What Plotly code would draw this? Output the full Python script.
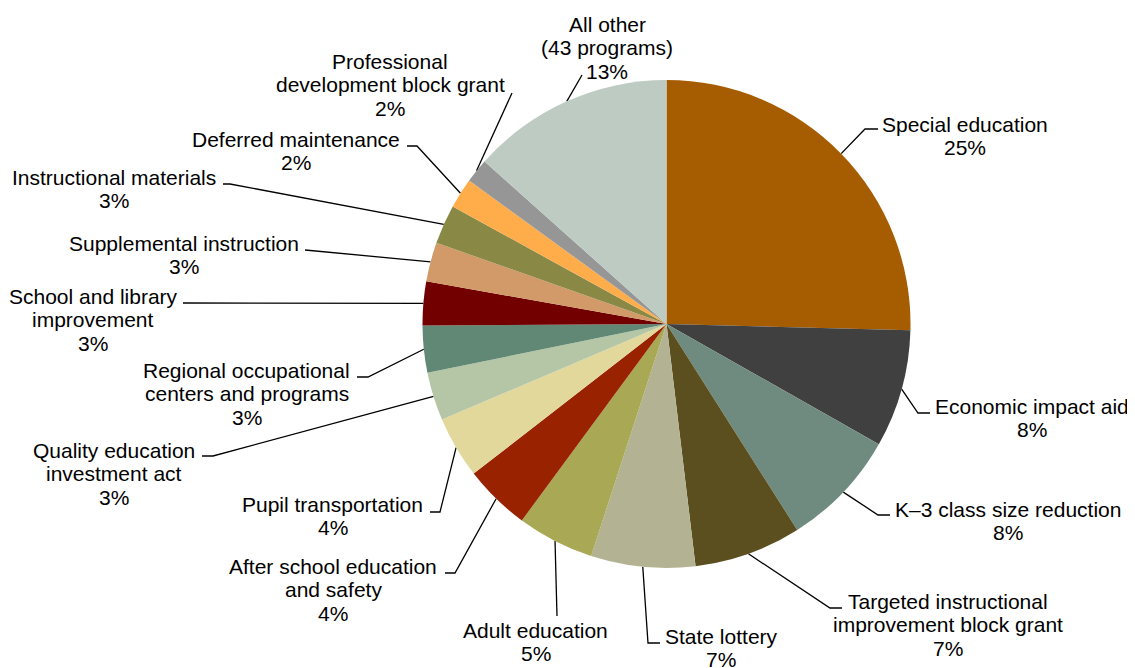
import math
import plotly.graph_objects as go

# ---------------- data ----------------
categories = [
    "Special education", "Economic impact aid", "K–3 class size reduction",
    "Targeted instructional improvement block grant", "State lottery",
    "Adult education", "After school education and safety",
    "Pupil transportation", "Quality education investment act",
    "Regional occupational centers and programs",
    "School and library improvement", "Supplemental instruction",
    "Instructional materials", "Deferred maintenance",
    "Professional development block grant", "All other (43 programs)",
]
values = [25.4, 7.8, 7.8, 7.1, 6.9, 5.1, 4.4, 4.1, 3.2, 3.1, 2.9, 2.6, 2.6, 2.0, 1.6, 13.4]
label_lines = [
    ["Special education"],
    ["Economic impact aid"],
    ["K–3 class size reduction"],
    ["Targeted instructional", "improvement block grant"],
    ["State lottery"],
    ["Adult education"],
    ["After school education", "and safety"],
    ["Pupil transportation"],
    ["Quality education", "investment act"],
    ["Regional occupational", "centers and programs"],
    ["School and library", "improvement"],
    ["Supplemental instruction"],
    ["Instructional materials"],
    ["Deferred maintenance"],
    ["Professional", "development block grant"],
    ["All other", "(43 programs)"],
]
colors = [
    "#A65C00", "#404040", "#6F8B7F", "#5C4F1F", "#B3B393", "#A8A855",
    "#992200", "#E2D89B", "#B4C6A5", "#608874", "#720000", "#D29A68",
    "#8A8845", "#FFAD4B", "#969696", "#BDCBC3",
]

# ---------------- layout ----------------
W, H = 1135, 668
OFF = 8  # page body margin: figure origin sits 8px in from the window corner
CX, CY, R = 666.5, 324.0, 244.0   # window pixel coords
FONT = "Liberation Sans, Arial, sans-serif"
FS = 21
LINE_GAP = 23.5

# label text centre x and first-line baseline y (window pixels)
label_pos = [
    (965, 131), (1032, 413), (1008, 516), (948, 608), (721, 643),
    (535.5, 637), (333, 573), (332.5, 511), (114, 457), (246.5, 377),
    (93, 303), (184, 250), (114, 184), (296, 146), (390, 68), (607, 31),
]
# leader line points after the slice-edge start point (window pixels)
leader_pts = [
    [(865, 129), (878, 129)],
    [(918, 413), (930, 413)],
    [(878, 515), (890, 515)],
    [(830, 608), (842, 608)],
    [(648, 643), (660, 643)],
    [(557, 616)],
    [(455, 573), (445, 573)],
    [(440, 512), (430, 512)],
    [(213, 456), (202, 456)],
    [(368, 377), (357, 377)],
    [(183, 303)],
    [(310, 250), (305, 250)],
    [(230, 184), (223, 184)],
    [(417, 146), (407, 146)],
    [(512, 93)],
    [(582, 75)],
]

fig = go.Figure()

pcx, pcy = CX - OFF, CY - OFF
fig.add_trace(go.Pie(
    labels=categories, values=values, sort=False, direction="clockwise",
    rotation=0, textinfo="none", hoverinfo="label+percent",
    marker=dict(colors=colors, line=dict(width=0)),
    domain=dict(x=[(pcx - R) / W, (pcx + R) / W],
                y=[(H - pcy - R) / H, (H - pcy + R) / H]),
    showlegend=False,
))

total = sum(values)
cum = 0.0
annotations = []
for i, v in enumerate(values):
    mid = (cum + v / 2) / total * 2 * math.pi
    cum += v
    sx = CX + R * math.sin(mid)
    sy = CY - R * math.cos(mid)
    pts = [(sx, sy)] + leader_pts[i]
    fig.add_trace(go.Scatter(
        x=[p[0] for p in pts], y=[p[1] for p in pts], mode="lines",
        line=dict(color="black", width=1.3), hoverinfo="skip",
        showlegend=False, xaxis="x", yaxis="y",
    ))
    lines = label_lines[i] + [f"{round(v)}%"]
    cx, b1 = label_pos[i]
    for k, t in enumerate(lines):
        annotations.append(dict(
            x=cx, y=b1 + k * LINE_GAP - 7, xref="x", yref="y",
            text=t, showarrow=False, xanchor="center", yanchor="middle",
            font=dict(family=FONT, size=FS, color="black"),
        ))

fig.update_layout(
    width=W, height=H,
    margin=dict(l=0, r=0, t=0, b=0),
    paper_bgcolor="white", plot_bgcolor="rgba(0,0,0,0)",
    xaxis=dict(range=[OFF, W + OFF], visible=False, domain=[0, 1], fixedrange=True),
    yaxis=dict(range=[H + OFF, OFF], visible=False, domain=[0, 1], fixedrange=True),
    annotations=annotations,
    font=dict(family=FONT, size=FS, color="black"),
)

fig.write_html("out.html")
